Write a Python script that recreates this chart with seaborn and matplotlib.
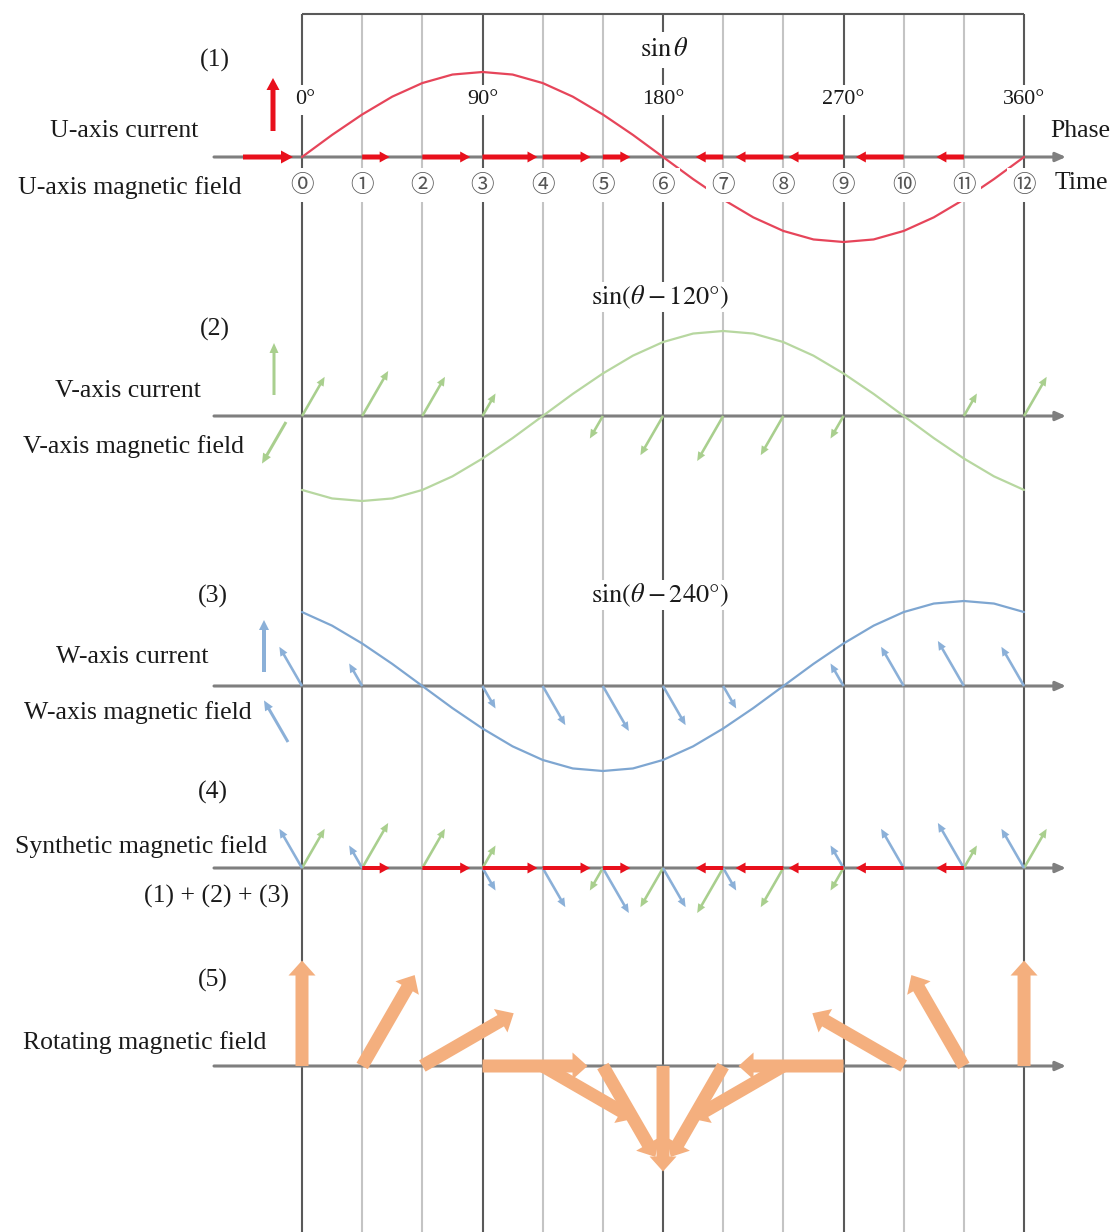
import numpy as np
import pandas as pd
import matplotlib.pyplot as plt
import seaborn as sns

# ---- values ----
# phase currents sampled every 15 degrees
phase_deg = [0, 15, 30, 45, 60, 75, 90, 105, 120, 135, 150, 165, 180,
             195, 210, 225, 240, 255, 270, 285, 300, 315, 330, 345, 360]
u_current = [0.00, 0.26, 0.50, 0.71, 0.87, 0.97, 1.00, 0.97, 0.87, 0.71, 0.50, 0.26, 0.00,
             -0.26, -0.50, -0.71, -0.87, -0.97, -1.00, -0.97, -0.87, -0.71, -0.50, -0.26, 0.00]
v_current = [-0.87, -0.97, -1.00, -0.97, -0.87, -0.71, -0.50, -0.26, 0.00, 0.26, 0.50, 0.71, 0.87,
             0.97, 1.00, 0.97, 0.87, 0.71, 0.50, 0.26, 0.00, -0.26, -0.50, -0.71, -0.87]
w_current = [0.87, 0.71, 0.50, 0.26, 0.00, -0.26, -0.50, -0.71, -0.87, -0.97, -1.00, -0.97, -0.87,
             -0.71, -0.50, -0.26, 0.00, 0.26, 0.50, 0.71, 0.87, 0.97, 1.00, 0.97, 0.87]

time_steps = list(range(13))            # one step = 30 degrees
time_labels = ["⓪", "①", "②", "③", "④", "⑤", "⑥", "⑦", "⑧", "⑨", "⑩", "⑪", "⑫"]
phase_ticks = [0, 3, 6, 9, 12]
phase_tick_labels = ["0°", "90°", "180°", "270°", "360°"]

# direction of each coil's field for a positive current (degrees)
field_angle = {"U": 0, "V": 240, "W": 120}

# ---- layout, in pixels of the 1117 x 1232 canvas ----
STEP = 60.17          # pixels per time step
X0 = 302              # pixel column of time step 0


def fx(px):
    return (px - X0) / STEP


def fy(py):
    return -py / STEP


def d(px):
    return px / STEP


base = {"U": 157, "V": 416, "W": 686, "S": 868, "R": 1066}
CURVE_AMP = 85
FIELD_AMP = {"U": 55, "V": 52, "W": 52}
ROT_AMP = 70

RED = "#E8101C"
RED_CURVE = "#E6455A"
GREEN = "#A9CF8E"
GREEN_CURVE = "#B7D7A0"
BLUE = "#8BB0D8"
BLUE_CURVE = "#7EA6D1"
ORANGE = "#F4AF7E"
DARK = "#595959"
LIGHT = "#C4C4C4"
AXIS = "#7F7F7F"

sns.set_theme(style="white")
plt.rcParams["font.family"] = ["Liberation Serif", "DejaVu Serif"]
plt.rcParams["mathtext.fontset"] = "stix"

fig = plt.figure(figsize=(11.17, 12.32), dpi=100)
ax = fig.add_axes([0, 0, 1, 1])

# grid of time lines and top border
line_colors = [DARK if t in phase_ticks else LIGHT for t in time_steps]
ax.vlines(time_steps, fy(1232), fy(14), colors=line_colors, lw=1.5, zorder=1)
ax.hlines(fy(14), time_steps[0], time_steps[-1], colors=DARK, lw=1.5, zorder=1)

# horizontal axes with arrow heads
for key in ["U", "V", "W", "S", "R"]:
    ax.annotate("", xy=(fx(1066), fy(base[key])), xytext=(fx(214), fy(base[key])),
                arrowprops=dict(arrowstyle="-|>,head_length=0.5,head_width=0.22",
                                color=AXIS, lw=2.2, shrinkA=0, shrinkB=0),
                zorder=2)

# current waveforms
curves = [("U", u_current, RED_CURVE), ("V", v_current, GREEN_CURVE),
          ("W", w_current, BLUE_CURVE)]
for key, cur, col in curves:
    df = pd.DataFrame({"t": np.array(phase_deg) / 30.0,
                       "y": fy(base[key]) + d(CURVE_AMP) * np.array(cur)})
    sns.lineplot(data=df, x="t", y="y", color=col, lw=1.6, ax=ax, sort=False,
                 legend=False, zorder=3)

ax.set_xlim(fx(0), fx(1117))
ax.set_ylim(fy(1232), fy(0))
ax.set_aspect("equal")
ax.axis("off")


def arrow(x, y, dx, dy, color, width, head_w, head_l, z=4):
    if np.hypot(dx, dy) < 1e-6:
        return
    ax.arrow(x, y, dx, dy, width=d(width), head_width=d(head_w), head_length=d(head_l),
             length_includes_head=True, fc=color, ec=color, lw=0, zorder=z)


def field(key, cur):
    a = np.deg2rad(field_angle[key])
    return cur * np.cos(a), cur * np.sin(a)


currents = {"U": u_current[::2], "V": v_current[::2], "W": w_current[::2]}
colors = {"U": RED, "V": GREEN, "W": BLUE}
styles = {"U": (5, 11, 10), "V": (2.6, 8, 9), "W": (2.6, 8, 9)}

# panels (1)-(3): single coil fields
for key in ["U", "V", "W"]:
    for t, c in zip(time_steps, currents[key]):
        vx, vy = field(key, c)
        s = FIELD_AMP[key]
        arrow(t, fy(base[key]), d(s) * vx, d(s) * vy, colors[key], *styles[key])

# panel (4): the three fields drawn from a common origin
for key in ["V", "W", "U"]:
    for t, c in zip(time_steps, currents[key]):
        vx, vy = field(key, c)
        s = FIELD_AMP[key]
        w, hw, hl = styles[key]
        arrow(t, fy(base["S"]), d(s) * vx, d(s) * vy, colors[key],
              w if key != "U" else 4, hw, hl)

# panel (5): resultant rotating field
for i, t in enumerate(time_steps):
    rx = sum(field(k, currents[k][i])[0] for k in ["U", "V", "W"])
    ry = sum(field(k, currents[k][i])[1] for k in ["U", "V", "W"])
    arrow(t, fy(base["R"]), d(ROT_AMP) * rx, d(ROT_AMP) * ry, ORANGE, 13, 27, 15)

# legend arrows: current (up) and field direction
arrow(fx(273), fy(131), 0, d(53), RED, 5, 13, 12)
arrow(fx(243), fy(base["U"]), d(50), 0, RED, 5, 13, 12)
arrow(fx(274), fy(395), 0, d(52), GREEN, 3, 9, 10)
gx, gy = field("V", 1)
arrow(fx(286), fy(422), d(48) * gx, d(48) * gy, GREEN, 3, 9, 10)
arrow(fx(264), fy(672), 0, d(52), BLUE, 4, 10, 10)
bx, by = field("W", 1)
arrow(fx(288), fy(742), d(48) * bx, d(48) * by, BLUE, 3, 9, 10)

# text
TXT = "#1a1a1a"
FS = 18.5
white = dict(boxstyle="square,pad=0.25", fc="white", ec="none")
tight = dict(boxstyle="square,pad=0.05", fc="white", ec="none")

for t, lab in zip(time_steps, time_labels):
    ax.text(t, fy(185), lab, ha="center", va="center", fontsize=17, color="#555555",
            family=["Noto Sans CJK JP", "DejaVu Sans"],
            bbox=dict(boxstyle="square,pad=0.22", fc="white", ec="none"), zorder=5)
for t, lab in zip(phase_ticks, phase_tick_labels):
    ax.text(t + (fx(305) if t == 0 else 0), fy(100), lab, ha="center", va="center",
            fontsize=16, color=TXT, bbox=white, zorder=5)

ax.text(fx(664), fy(50), r"$\sin\theta$", ha="center", va="center", fontsize=19,
        color=TXT, bbox=white, zorder=5)
ax.text(fx(660), fy(297), r"$\sin(\theta - 120°)$", ha="center", va="center",
        fontsize=19, color=TXT, bbox=tight, zorder=5)
ax.text(fx(660), fy(595), r"$\sin(\theta - 240°)$", ha="center", va="center",
        fontsize=19, color=TXT, bbox=tight, zorder=5)

ax.text(fx(1050), fy(131), "Phase", ha="left", va="center", fontsize=FS, color=TXT)
ax.text(fx(1055), fy(183), "Time", ha="left", va="center", fontsize=FS, color=TXT)

left_labels = [
    ("(1)", 215, 60), ("U-axis current", 124, 131), ("U-axis magnetic field", 130, 188),
    ("(2)", 215, 329), ("V-axis current", 128, 391), ("V-axis magnetic field", 133, 447),
    ("(3)", 213, 596), ("W-axis current", 132, 657), ("W-axis magnetic field", 138, 713),
    ("(4)", 213, 792), ("Synthetic magnetic field", 141, 847), ("(1) + (2) + (3)", 216, 896),
    ("(5)", 213, 980), ("Rotating magnetic field", 145, 1043),
]
for s, px, py in left_labels:
    ax.text(fx(px), fy(py), s, ha="center", va="center", fontsize=FS, color=TXT, zorder=5)

fig.savefig("out.png", dpi=100)
